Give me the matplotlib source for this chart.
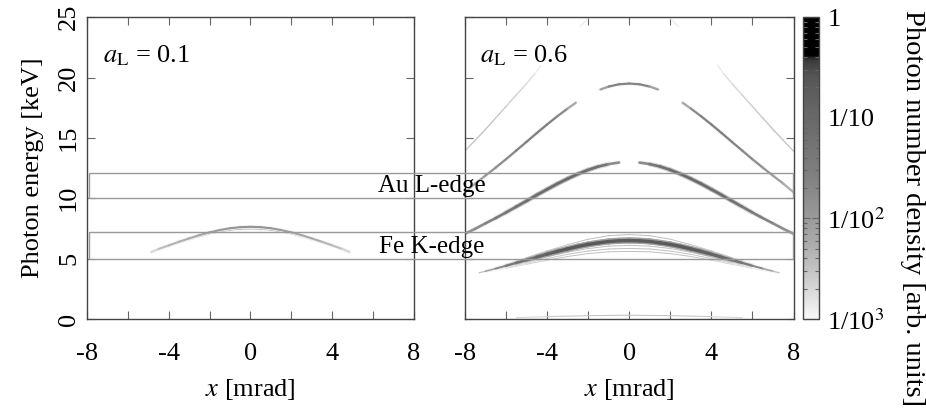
import numpy as np
import matplotlib
matplotlib.use('Agg')
import matplotlib.pyplot as plt
from matplotlib.collections import LineCollection
from matplotlib.colors import LinearSegmentedColormap, LogNorm
from matplotlib.cm import ScalarMappable
from matplotlib.patches import Rectangle
from matplotlib.ticker import MultipleLocator, FixedLocator, NullFormatter

plt.rcParams['font.family'] = ['Liberation Serif', 'DejaVu Serif']
plt.rcParams['mathtext.fontset'] = 'stix'
plt.rcParams['axes.unicode_minus'] = False

nan = np.nan

# ---- a_L = 0.1 : fundamental arc (two close components) ----
x_01 = [-4.85, -4.5, -4, -3.5, -3, -2.5, -2, -1.5, -1, -0.5, 0, 0.5, 1, 1.5, 2, 2.5, 3, 3.5, 4, 4.5, 4.85]
E_01 = [5.55, 5.80, 6.10, 6.40, 6.68, 6.95, 7.18, 7.37, 7.52, 7.61, 7.64, 7.61, 7.52, 7.37, 7.18, 6.95, 6.68,
        6.40, 6.10, 5.80, 5.55]
I_01 = [0.0015, 0.003, 0.004, 0.005, 0.006, 0.007, 0.008, 0.010, 0.012, 0.013, 0.013, 0.013, 0.012, 0.010,
        0.008, 0.007, 0.006, 0.005, 0.004, 0.003, 0.0015]
E_01b = [5.53, 5.77, 6.05, 6.33, 6.60, 6.85, 7.08, 7.26, 7.40, 7.48, 7.50, 7.48, 7.40, 7.26, 7.08, 6.85, 6.60,
         6.33, 6.05, 5.77, 5.53]
I_01b = [0.001, 0.002, 0.003, 0.0035, 0.004, 0.0045, 0.005, 0.006, 0.007, 0.0075, 0.008, 0.0075, 0.007,
         0.006, 0.005, 0.0045, 0.004, 0.0035, 0.003, 0.002, 0.001]

# ---- a_L = 0.6 : harmonics ----
x_h1 = [-7.3, -7, -6.5, -6, -5.5, -5, -4.5, -4, -3.5, -3, -2.5, -2, -1.5, -1, -0.5, 0,
        0.5, 1, 1.5, 2, 2.5, 3, 3.5, 4, 4.5, 5, 5.5, 6, 6.5, 7, 7.3]
E_h1 = [3.83, 3.96, 4.18, 4.41, 4.65, 4.89, 5.13, 5.37, 5.60, 5.81, 6.01, 6.18, 6.31, 6.42, 6.48, 6.50,
        6.48, 6.42, 6.31, 6.18, 6.01, 5.81, 5.60, 5.37, 5.13, 4.89, 4.65, 4.41, 4.18, 3.96, 3.83]
I_h1 = [0.002, 0.005, 0.012, 0.03, 0.05, 0.08, 0.11, 0.14, 0.17, 0.20, 0.22, 0.22, 0.21, 0.20, 0.20, 0.20,
        0.20, 0.20, 0.21, 0.22, 0.22, 0.20, 0.17, 0.14, 0.11, 0.08, 0.05, 0.03, 0.012, 0.005, 0.002]
W_h1 = [0.8, 1.0, 1.3, 1.6, 1.8, 2.0, 2.2, 2.3, 2.4, 2.4, 2.4, 2.4, 2.4, 2.4, 2.4, 2.4,
        2.4, 2.4, 2.4, 2.4, 2.4, 2.4, 2.4, 2.3, 2.2, 2.0, 1.8, 1.6, 1.3, 1.0, 0.8]

# faint spread around the fundamental
x_sp = [-7, -6, -5, -4, -3, -2, -1, 0, 1, 2, 3, 4, 5, 6, 7]
E_sp1 = [3.87, 4.19, 4.53, 4.88, 5.18, 5.42, 5.57, 5.60, 5.57, 5.42, 5.18, 4.88, 4.53, 4.19, 3.87]
E_sp2 = [3.90, 4.25, 4.63, 5.01, 5.36, 5.63, 5.80, 5.85, 5.80, 5.63, 5.36, 5.01, 4.63, 4.25, 3.90]
E_sp3 = [3.92, 4.31, 4.73, 5.15, 5.53, 5.84, 6.04, 6.10, 6.04, 5.84, 5.53, 5.15, 4.73, 4.31, 3.92]
E_sp4 = [3.94, 4.36, 4.81, 5.26, 5.67, 6.01, 6.23, 6.30, 6.23, 6.01, 5.67, 5.26, 4.81, 4.36, 3.94]
E_sp5 = [3.99, 4.47, 4.99, 5.51, 5.99, 6.39, 6.66, 6.75, 6.66, 6.39, 5.99, 5.51, 4.99, 4.47, 3.99]
E_sp6 = [4.01, 4.54, 5.09, 5.65, 6.16, 6.61, 6.90, 7.00, 6.90, 6.61, 6.16, 5.65, 5.09, 4.54, 4.01]
I_sp = [0.001, 0.0015, 0.002, 0.0025, 0.003, 0.0035, 0.0035, 0.0035, 0.0035, 0.0035, 0.003, 0.0025, 0.002,
        0.0015, 0.001]

x_h2 = [-8, -7.5, -7, -6.5, -6, -5.5, -5, -4.5, -4, -3.5, -3, -2.5, -2, -1.5, -1, -0.5, nan,
        0.5, 1, 1.5, 2, 2.5, 3, 3.5, 4, 4.5, 5, 5.5, 6, 6.5, 7, 7.5, 8]
E_h2 = [7.06, 7.47, 7.92, 8.36, 8.82, 9.30, 9.78, 10.27, 10.74, 11.20, 11.62, 12.01, 12.35, 12.63, 12.83, 12.96, nan,
        12.96, 12.83, 12.63, 12.35, 12.01, 11.62, 11.20, 10.74, 10.27, 9.78, 9.30, 8.82, 8.36, 7.92, 7.47, 7.06]
I_h2 = [0.012, 0.016, 0.02, 0.03, 0.04, 0.055, 0.07, 0.08, 0.09, 0.09, 0.09, 0.085, 0.075, 0.06, 0.04, 0.008, nan,
        0.008, 0.04, 0.06, 0.075, 0.085, 0.09, 0.09, 0.09, 0.08, 0.07, 0.055, 0.04, 0.03, 0.02, 0.016, 0.012]

x_h3 = [-8, -7.5, -7, -6.5, -6, -5.5, -5, -4.5, -4, -3.5, -3, -2.6, nan,
        -1.4, -1, -0.5, 0, 0.5, 1, 1.4, nan,
        2.6, 3, 3.5, 4, 4.5, 5, 5.5, 6, 6.5, 7, 7.5, 8]
E_h3 = [10.5, 11.21, 11.87, 12.54, 13.23, 13.95, 14.67, 15.40, 16.11, 16.79, 17.43, 17.91, nan,
        19.01, 19.25, 19.44, 19.5, 19.44, 19.25, 19.01, nan,
        17.91, 17.43, 16.79, 16.11, 15.40, 14.67, 13.95, 13.23, 12.54, 11.87, 11.21, 10.5]
I_h3 = [0.004, 0.007, 0.01, 0.014, 0.018, 0.022, 0.026, 0.028, 0.028, 0.024, 0.014, 0.003, nan,
        0.003, 0.022, 0.025, 0.022, 0.025, 0.022, 0.003, nan,
        0.003, 0.014, 0.024, 0.028, 0.028, 0.026, 0.022, 0.018, 0.014, 0.01, 0.007, 0.004]

x_h4 = [-8, -7.5, -7, -6.5, -6, -5.5, -5, -4.6, -4.3, nan, -2.4, -2.0, nan,
        2.0, 2.4, nan, 4.3, 4.6, 5, 5.5, 6, 6.5, 7, 7.5, 8]
E_h4 = [13.9, 14.8, 15.7, 16.65, 17.6, 18.55, 19.5, 20.3, 21.0, nan, 24.2, 24.9, nan,
        24.9, 24.2, nan, 21.0, 20.3, 19.5, 18.55, 17.6, 16.65, 15.7, 14.8, 13.9]
I_h4 = [0.0028, 0.003, 0.003, 0.0028, 0.0025, 0.0022, 0.002, 0.0016, 0.0011, nan, 0.0011, 0.0014, nan,
        0.0014, 0.0011, nan, 0.0011, 0.0016, 0.002, 0.0022, 0.0025, 0.0028, 0.003, 0.003, 0.0028]

x_low = [-5.5, -4, -2, 0, 2, 4, 5.5]
E_low = [0.12, 0.20, 0.28, 0.32, 0.28, 0.20, 0.12]
I_low = [0.0015, 0.0025, 0.003, 0.003, 0.003, 0.0025, 0.0015]

# absorption edge bands [keV]
au_band = (10.0, 12.1)
fe_band = (5.0, 7.2)

cb_ticks = [1e-3, 1e-2, 1e-1, 1]
cb_labels = ['1/10$^3$', '1/10$^2$', '1/10', '1']

# colormap: white -> gray, then black at the top
nodes = [0, 0.144, 0.254, 0.333, 0.475, 0.668, 0.807, 0.86, 0.875, 1]
grays = ['#f8f8f8', '#c8c8c8', '#aaaaaa', '#9a9a9a', '#808080', '#696969',
         '#555555', '#3a3a3a', '#000000', '#000000']
cmap = LinearSegmentedColormap.from_list('photon', list(zip(nodes, grays)))
norm = LogNorm(vmin=1e-3, vmax=1)


def draw_arc(ax, x, E, I, lw, halo=True):
    x = np.asarray(x, float)
    E = np.asarray(E, float)
    I = np.asarray(I, float)
    lw = np.broadcast_to(np.asarray(lw, float), x.shape)
    segs, vals, widths = [], [], []
    for i in range(len(x) - 1):
        if np.isnan(x[i]) or np.isnan(x[i + 1]):
            continue
        segs.append([(x[i], E[i]), (x[i + 1], E[i + 1])])
        vals.append(np.sqrt(I[i] * I[i + 1]))
        widths.append(0.5 * (lw[i] + lw[i + 1]))
    vals = np.array(vals)
    widths = np.array(widths)
    if halo:
        # soft blurred edge
        ax.add_collection(LineCollection(segs, array=vals * 0.04, cmap=cmap, norm=norm,
                                         linewidths=widths * 1.8, capstyle='round',
                                         joinstyle='round'))
    ax.add_collection(LineCollection(segs, array=vals, cmap=cmap, norm=norm,
                                     linewidths=widths, capstyle='round', joinstyle='round'))


fig = plt.figure(figsize=(9.26, 4.08), dpi=100)
ax1 = fig.add_axes([0.094, 0.218, 0.353, 0.740])
ax2 = fig.add_axes([0.502, 0.218, 0.355, 0.740])
cax = fig.add_axes([0.867, 0.218, 0.0173, 0.740])

draw_arc(ax1, x_01, E_01b, I_01b, 1.2)
draw_arc(ax1, x_01, E_01, I_01, 1.5)

for E_sp in [E_sp1, E_sp2, E_sp3, E_sp4, E_sp5, E_sp6]:
    draw_arc(ax2, x_sp, E_sp, I_sp, 0.7, halo=False)
draw_arc(ax2, x_low, E_low, I_low, 0.8, halo=False)
draw_arc(ax2, x_h4, E_h4, I_h4, 1.0, halo=False)
draw_arc(ax2, x_h3, E_h3, I_h3, 1.6)
draw_arc(ax2, x_h2, E_h2, I_h2, 1.9)
draw_arc(ax2, x_h1, E_h1, I_h1, W_h1)

for ax in (ax1, ax2):
    ax.set_xlim(-8, 8)
    ax.set_ylim(0, 25)
    ax.xaxis.set_major_locator(MultipleLocator(4))
    ax.xaxis.set_minor_locator(MultipleLocator(2))
    ax.yaxis.set_major_locator(MultipleLocator(5))
    ax.tick_params(which='both', direction='in', top=True, right=True,
                   length=5.5, width=0.8, color='#666666', labelsize=19)
    ax.tick_params(axis='x', pad=17)
    for s in ax.spines.values():
        s.set_color('#444444')
        s.set_linewidth(1.0)
    ax.set_xlabel('$x$ [mrad]', fontsize=19, labelpad=9)

ax1.tick_params(axis='y', labelrotation=90, pad=5)
for lab in ax1.get_yticklabels():
    lab.set_va('center')
ax1.set_ylabel('Photon energy [keV]', fontsize=19, labelpad=10)
ax2.tick_params(axis='y', labelleft=False)

ax1.text(0.05, 0.85, r'$a_{\mathrm{L}}$ = 0.1', transform=ax1.transAxes, fontsize=19)
ax2.text(0.046, 0.85, r'$a_{\mathrm{L}}$ = 0.6', transform=ax2.transAxes, fontsize=19)

# colorbar
sm = ScalarMappable(norm=norm, cmap=cmap)
cb = fig.colorbar(sm, cax=cax)
cb.outline.set_edgecolor('#444444')
cb.outline.set_linewidth(1.0)
cax.yaxis.set_major_locator(FixedLocator(cb_ticks))
cax.set_yticklabels(cb_labels)
cax.yaxis.set_minor_formatter(NullFormatter())
cax.tick_params(which='both', direction='in', left=True, right=True,
                color='#666666', width=0.8, labelsize=19, pad=6)
cax.tick_params(which='major', length=5)
cax.tick_params(which='minor', length=3)
fig.text(0.985, 0.49, 'Photon number density [arb. units]', rotation=270,
         ha='center', va='center', fontsize=20.5)

# absorption edge boxes spanning both panels
fig.canvas.draw()
to_fig = fig.transFigure.inverted()
for (lo, hi), name in [(au_band, 'Au L-edge'), (fe_band, 'Fe K-edge')]:
    x0, y0 = to_fig.transform(ax1.transData.transform((-7.9, lo)))
    x1, y1 = to_fig.transform(ax2.transData.transform((7.95, hi)))
    fig.patches.append(Rectangle((x0, y0), x1 - x0, y1 - y0, transform=fig.transFigure,
                                 fill=False, edgecolor='#999999', linewidth=1.0, zorder=3))
    fig.text(0.466, y0 + 0.015, name, ha='center', va='baseline', fontsize=18, zorder=4)

fig.savefig('out.png', dpi=100)
